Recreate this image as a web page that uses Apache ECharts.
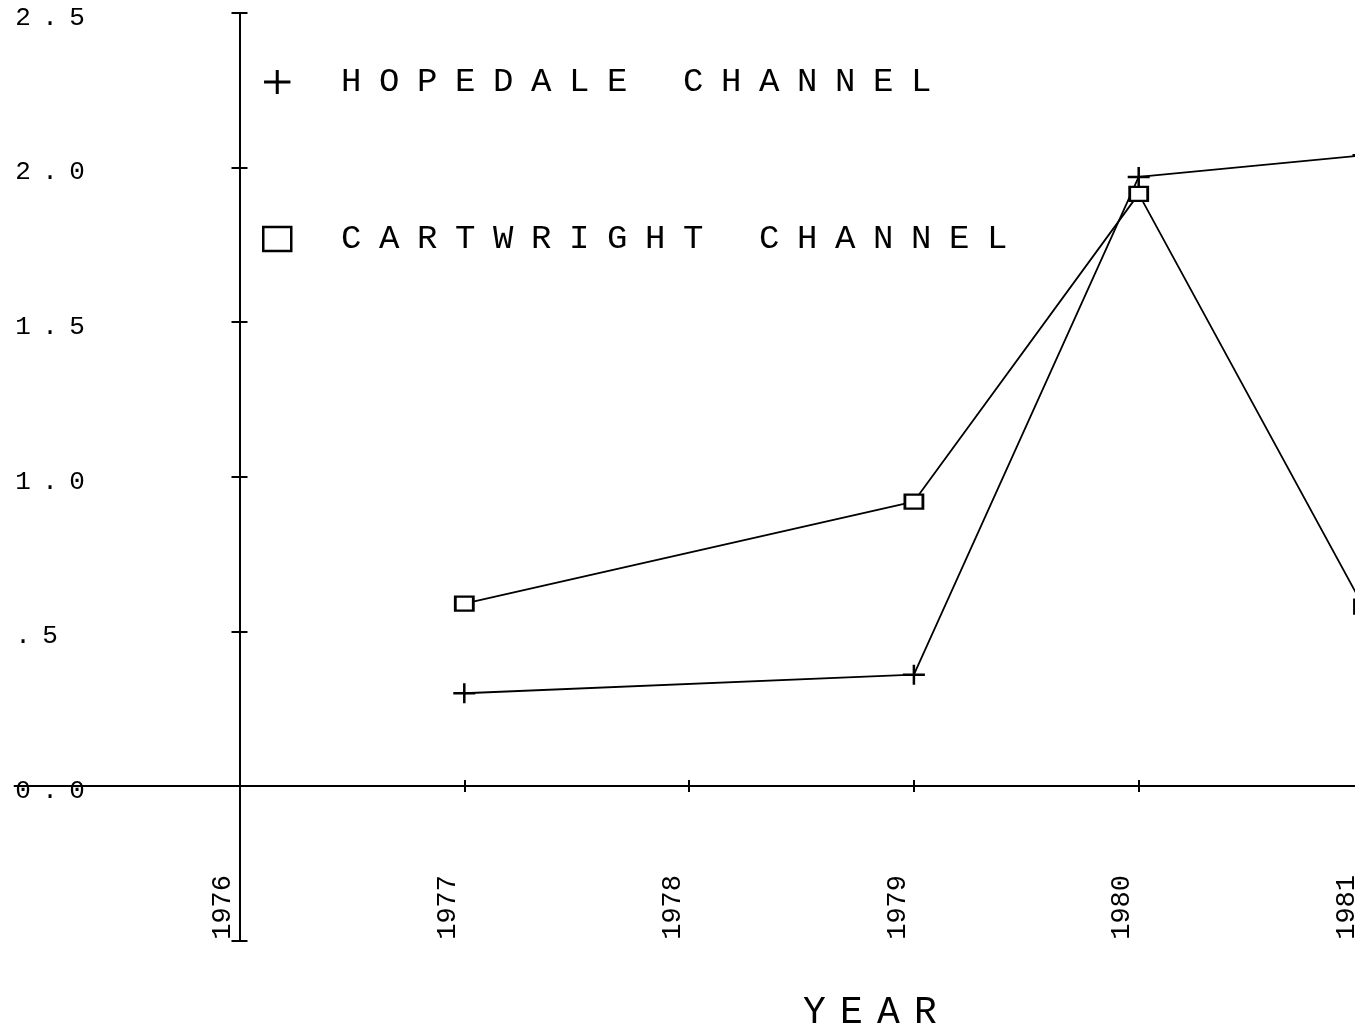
<!DOCTYPE html>
<html>
<head>
<meta charset="utf-8">
<title>Hopedale / Cartwright channel</title>
<script src="https://cdn.jsdelivr.net/npm/echarts@6/dist/echarts.min.js"></script>
<style>
  html, body { margin: 0; padding: 0; background: #fff; }
  #chart { width: 1355px; height: 1030px; }
</style>
</head>
<body>
<div id="chart"></div>
<script>
const tickYears = [1976, 1977, 1978, 1979, 1980, 1981]
const sampleYears = [1977, 1979, 1980, 1981]
const hopedale = [0.30, 0.36, 1.97, 2.04]
const cartwright = [0.59, 0.92, 1.915, 0.58]
const yTicks = [-0.5, 0, 0.5, 1, 1.5, 2, 2.5]
const yTickLabels = ['', '0.0', '.5', '1.0', '1.5', '2.0', '2.5']

const FONT = 'Liberation Mono'
const plusIcon = 'path://M0,8.75H22V11.25H0Z M9.75,0H12.25V20H9.75Z'

// plotter-style lettering: one fixed cell per character
function spread(text, key) {
  return text.split('').map(c => '{' + key + '|' + c + '}').join('')
}

const chart = echarts.init(document.getElementById('chart'))

const yAxisBase = {
  type: 'value',
  position: 'left',
  offset: -224.8,
  min: -0.5,
  max: 2.5,
  interval: 0.5,
  splitLine: { show: false },
  axisLine: { show: true, onZero: false, lineStyle: { color: '#000', width: 2 } },
}
const xAxisBase = {
  type: 'value',
  position: 'bottom',
  min: 1975,
  max: 1981,
  interval: 1,
  splitLine: { show: false },
  axisLine: { show: true, onZero: true, lineStyle: { color: '#000', width: 2 } },
}

chart.setOption({
  animation: false,
  backgroundColor: '#fff',
  grid: { left: 14.7, right: -8.5, top: 13, bottom: 89.4, outerBoundsMode: 'none' },
  title: {
    text: spread('YEAR', 'c'),
    left: 791,
    top: 989,
    textStyle: {
      rich: { c: { width: 37, align: 'center', fontSize: 38, lineHeight: 38, fontWeight: 'normal', fontFamily: FONT, color: '#000' } },
    },
  },
  legend: {
    orient: 'vertical',
    left: 262,
    top: 65,
    padding: 0,
    itemWidth: 28,
    itemHeight: 24,
    itemGap: 123,
    selectedMode: false,
    formatter: name => '{g| }' + spread(name, 'c'),
    textStyle: {
      rich: {
        g: { width: 36 },
        c: { width: 38, align: 'center', fontSize: 34, lineHeight: 28, fontFamily: FONT, color: '#000' },
      },
    },
    data: [
      { name: 'HOPEDALE CHANNEL', icon: plusIcon, itemStyle: { color: '#000', borderWidth: 0 } },
      { name: 'CARTWRIGHT CHANNEL', icon: 'rect', itemStyle: { color: '#fff', borderColor: '#000', borderWidth: 2.5 } },
    ],
  },
  xAxis: [
    {
      ...xAxisBase,
      axisTick: { show: true, customValues: tickYears, length: 6, lineStyle: { color: '#000', width: 2 } },
      // labels hang from the grid bottom, not from the zero line
      axisLabel: {
        show: true,
        rotate: 90,
        margin: -65.6,
        verticalAlign: 'bottom',
        padding: [0, 0, 3, 0],
        hideOverlap: false,
        fontSize: 27,
        fontFamily: FONT,
        color: '#000',
        formatter: v => (tickYears.includes(v) ? String(v) : ''),
      },
    },
    {
      ...xAxisBase,
      axisTick: { show: true, inside: true, customValues: tickYears, length: 6, lineStyle: { color: '#000', width: 2 } },
      axisLabel: { show: false },
    },
  ],
  yAxis: [
    {
      ...yAxisBase,
      axisTick: { show: true, length: 8, lineStyle: { color: '#000', width: 2 } },
      axisLabel: {
        show: true,
        align: 'left',
        margin: 230,
        padding: [10, 0, 0, 0],
        formatter: v => {
          const i = yTicks.findIndex(t => Math.abs(t - v) < 1e-6)
          return i > 0 ? spread(yTickLabels[i], 'c') : ''
        },
        rich: { c: { width: 27, align: 'center', fontSize: 26, fontFamily: FONT, color: '#000' } },
      },
    },
    {
      ...yAxisBase,
      axisTick: { show: true, inside: true, length: 8, lineStyle: { color: '#000', width: 2 } },
      axisLabel: { show: false },
    },
  ],
  series: [
    {
      name: 'HOPEDALE CHANNEL',
      type: 'line',
      xAxisIndex: 0,
      yAxisIndex: 0,
      data: sampleYears.map((y, i) => [y, hopedale[i]]),
      symbol: plusIcon,
      symbolSize: [22, 20],
      showAllSymbol: true,
      itemStyle: { color: '#000' },
      lineStyle: { color: '#000', width: 1.8 },
      z: 3,
    },
    {
      name: 'CARTWRIGHT CHANNEL',
      type: 'line',
      xAxisIndex: 0,
      yAxisIndex: 0,
      data: sampleYears.map((y, i) => [y, cartwright[i]]),
      symbol: 'rect',
      symbolSize: [18, 14],
      showAllSymbol: true,
      itemStyle: { color: '#fff', borderColor: '#000', borderWidth: 2.5 },
      lineStyle: { color: '#000', width: 1.8 },
      z: 4,
    },
  ],
})
</script>
</body>
</html>
